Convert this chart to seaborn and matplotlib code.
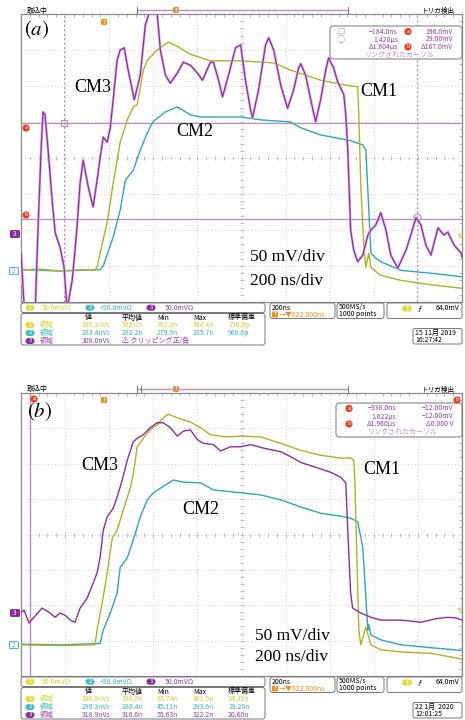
import numpy as np
import pandas as pd
import seaborn as sns
import matplotlib.pyplot as plt
from matplotlib.patches import FancyBboxPatch, Circle
from matplotlib.ticker import FixedLocator, MultipleLocator

# values: time in ns, level in mV on screen (50 mV/div)
T0 = -378  # left edge of the 2 us window

# (a)
a_ch1 = [(-378, -156), (-300, -154), (-200, -157), (-100, -155), (-42, -156), (-33, -151),
         (13, -89), (40, -35), (72, 22), (104, 53), (131, 71), (149, 74), (177, 122),
         (195, 136), (240, 150), (290, 161), (331, 155), (390, 144), (481, 135), (618, 135),
         (768, 132), (845, 122), (981, 108), (1117, 100), (1149, 99), (1154, 60), (1163, -40),
         (1177, -124), (1186, -152), (1199, -132), (1209, -152), (1254, -163), (1345, -170),
         (1481, -176), (1622, -181)]
a_ch2 = [(-378, -155), (-200, -157), (-19, -155), (-5, -150), (40, -110), (72, -72), (95, -31),
         (131, -17), (163, 11), (195, 35), (222, 51), (277, 64), (331, 71), (390, 60),
         (436, 57), (618, 57), (708, 53), (845, 50), (890, 42), (981, 32), (1117, 24),
         (1172, 18), (1186, 11), (1209, -132), (1231, -139), (1254, -144), (1322, -153),
         (1345, -156), (1481, -160), (1622, -165)]
a_ch3 = [(-378, -130), (-364, -205), (-340, -215), (-314, -215), (-301, -100), (-287, 11),
         (-278, 64), (-269, 60), (-255, 11), (-237, -58), (-223, -104), (-201, -124),
         (-183, -151), (-169, -210), (-146, -170), (-133, -128), (-124, -96), (-110, -35),
         (-96, -3), (-73, -40), (-51, -68), (-33, -31), (-19, 1), (-5, 29), (13, 22), (27, 42),
         (40, 81), (58, 136), (72, 150), (90, 153), (108, 122), (136, 81), (163, 115),
         (186, 185), (208, 206), (217, 215), (240, 200), (254, 150), (277, 115), (299, 104),
         (331, 118), (358, 133), (390, 129), (422, 118), (445, 108), (481, 133), (495, 133),
         (518, 108), (536, 85), (563, 115), (595, 153), (618, 157), (640, 108), (663, 67),
         (672, 56), (699, 94), (731, 157), (745, 167), (768, 150), (800, 101), (831, 69),
         (858, 94), (881, 125), (890, 131), (913, 115), (936, 81), (958, 50), (981, 81),
         (1004, 122), (1017, 139), (1040, 125), (1058, 106), (1086, 88), (1095, 60),
         (1104, 11), (1117, -100), (1131, -128), (1149, -144), (1172, -135), (1195, -107),
         (1209, -100), (1231, -93), (1254, -76), (1277, -100), (1299, -135), (1331, -153),
         (1368, -128), (1390, -107), (1413, -83), (1436, -93), (1458, -121), (1481, -135),
         (1513, -97), (1540, -107), (1558, -103), (1586, -121), (1618, -132), (1622, -138)]

# (b)
b_ch1 = [(-378, -156), (-200, -157), (-42, -156), (-33, -135), (-5, -88), (13, -54), (36, -5),
         (58, 6), (86, 35), (118, 66), (131, 85), (149, 124), (177, 136), (208, 148),
         (240, 155), (267, 165), (290, 170), (331, 165), (390, 159), (436, 151), (481, 141),
         (549, 138), (618, 139), (708, 138), (800, 129), (890, 119), (981, 112), (1072, 108),
         (1117, 108), (1131, 105), (1136, 77), (1154, -135), (1163, -156), (1186, -131),
         (1209, -156), (1254, -163), (1345, -166), (1481, -168), (1622, -176)]
b_ch2 = [(-378, -155), (-200, -156), (-19, -154), (-5, -135), (27, -111), (58, -83), (72, -46),
         (104, -33), (131, -8), (163, 25), (195, 49), (222, 59), (277, 70), (313, 77),
         (358, 74), (436, 73), (495, 63), (618, 59), (708, 56), (800, 49), (890, 39),
         (981, 30), (1072, 26), (1117, 23), (1149, 18), (1172, -18), (1186, -88), (1195, -135),
         (1199, -127), (1209, -142), (1254, -149), (1345, -156), (1481, -160), (1622, -164)]
b_ch3 = [(-378, -110), (-364, -107), (-342, -125), (-319, -117), (-283, -104), (-246, -111),
         (-223, -117), (-201, -111), (-178, -114), (-155, -121), (-133, -124), (-110, -104),
         (-78, -90), (-51, -69), (-33, -54), (-19, -32), (-5, 6), (13, 25), (40, 37), (58, 53),
         (81, 77), (104, 105), (131, 131), (149, 136), (177, 141), (208, 151), (240, 158),
         (267, 158), (299, 151), (331, 139), (358, 146), (390, 148), (422, 134), (449, 129),
         (495, 127), (527, 118), (572, 124), (618, 124), (663, 127), (722, 122), (800, 117),
         (845, 110), (890, 102), (958, 95), (1026, 88), (1072, 81), (1095, 73), (1104, 6),
         (1117, -83), (1126, -104), (1163, -111), (1209, -117), (1254, -121), (1345, -121),
         (1436, -124), (1504, -119), (1558, -117), (1595, -118), (1622, -121)]

# cursors (ns / mV on screen)
a_cursor_t = [-184, 1420]
a_cursor_v = [49, -85]
b_cursor_t = [-338, 1620]

# readouts
head = ['値', '平均値', 'Min', 'Max', '標準偏差']
a_rows = [['393.1nVs', '393.1n', '392.0n', '394.4n', '196.9p'],
          ['283.4nVs', '282.2n', '279.9n', '285.7n', '969.8p'],
          ['308.0nVs', '⚠ クリッピング正/負']]
b_rows = [['396.0nVs', '394.0n', '85.74n', '401.5n', '24.33n'],
          ['290.3nVs', '288.4n', '45.11n', '293.6n', '19.20n'],
          ['318.9nVs', '316.6n', '55.63n', '322.2n', '20.60n']]
a_curs = [['☐', '−184.0ns', 'a', '196.0mV'], ['○', '1.420µs', '', '29.00mV'],
          ['', 'Δ1.604µs', 'b', 'Δ167.0mV']]
b_curs = [['a', '−338.0ns', '', '−12.00mV'], ['', '1.622µs', '', '−12.00mV'],
          ['b', 'Δ1.960µs', '', 'Δ0.000 V']]
a_date = ['15 11月 2019', '16:27:42']
b_date = ['22 1月  2020', '12:01:25']

YEL, CYA, PUR = '#b4b024', '#2ba9b2', '#8e2ca0'
YEL_T, CYA_T, PUR_T = '#d6cf2a', '#35b4c4', '#9a3cb0'
CUR = '#b98ccb'
RED = '#e8401c'
ORG = '#f0901c'

sns.set_style('white')
plt.rcParams['font.family'] = ['Noto Sans CJK JP', 'DejaVu Sans']
plt.rcParams['mathtext.fontset'] = 'stix'
UI = ['Noto Sans CJK JP', 'DejaVu Sans']
SERIF = 'Liberation Serif'

fig = plt.figure(figsize=(4.65, 7.2), dpi=100)
ax_a = fig.add_axes([21 / 465, 1 - 302 / 720, 441 / 465, 288 / 720])
ax_b = fig.add_axes([21 / 465, 1 - 676 / 720, 441 / 465, 283 / 720])


def scope_axes(ax):
    ax.set_xlim(T0, T0 + 2000)
    ax.set_ylim(-200, 200)
    ax.xaxis.set_major_locator(FixedLocator(np.arange(T0, T0 + 2001, 200)))
    ax.xaxis.set_minor_locator(FixedLocator(np.arange(T0, T0 + 2001, 40)))
    ax.yaxis.set_major_locator(MultipleLocator(50))
    ax.yaxis.set_minor_locator(MultipleLocator(10))
    ax.tick_params(which='both', direction='in', top=True, right=True,
                   labelbottom=False, labelleft=False, color='#a8a8a8', width=0.6)
    ax.tick_params(which='major', length=0)
    ax.tick_params(which='minor', length=2)
    ax.grid(True, which='major', ls=(0, (1, 3)), color='#bcbcbc', lw=0.6)
    # centre cross with small division marks
    ax.plot(np.arange(T0, T0 + 2001, 40), np.zeros(51), ls='none', marker='|',
            ms=3, mew=0.6, color='#b4b4b4')
    ax.plot(np.full(41, T0 + 1000), np.arange(-200, 201, 10), ls='none', marker='_',
            ms=3, mew=0.6, color='#b4b4b4')
    for s in ax.spines.values():
        s.set_color('#8a8a8a')
        s.set_linewidth(0.9)
    ax.set_xlabel('')
    ax.set_ylabel('')


def trace(ax, pts, color, lw=1.0, z=3):
    df = pd.DataFrame(pts, columns=['t', 'v'])
    sns.lineplot(data=df, x='t', y='v', ax=ax, color=color, lw=lw, sort=False,
                 estimator=None, legend=False, zorder=z)


scope_axes(ax_a)
scope_axes(ax_b)

# (a) cursors
for v in a_cursor_v:
    ax_a.axhline(v, color=CUR, lw=0.9, zorder=2)
for t in a_cursor_t:
    ax_a.axvline(t, color=CUR, lw=0.8, ls=(0, (2, 2)), zorder=2)
ax_a.plot([a_cursor_t[0]], [a_cursor_v[0]], marker='s', ms=5, mfc='none', mec=CUR, mew=0.8)
ax_a.plot([a_cursor_t[1]], [a_cursor_v[1] + 3], marker='o', ms=5, mfc='none', mec=CUR, mew=0.8)

trace(ax_a, a_ch2, CYA)
trace(ax_a, a_ch1, YEL)
trace(ax_a, a_ch3, '#dcb8e6', lw=1.9, z=4)
trace(ax_a, a_ch3, PUR, lw=0.9, z=5)

# (b) cursors
for t in b_cursor_t:
    ax_b.axvline(t, color=CUR, lw=1.0, zorder=2)
trace(ax_b, b_ch2, CYA)
trace(ax_b, b_ch1, YEL)
trace(ax_b, b_ch3, PUR, lw=1.0, z=5)

# ---------- overlay in pixel coordinates for the scope furniture ----------
ov = fig.add_axes([0, 0, 1, 1], zorder=10)
ov.set_xlim(0, 465)
ov.set_ylim(720, 0)
ov.axis('off')
ov.patch.set_alpha(0)


def txt(x, y, s, color='black', ha='left', size=5.0, **kw):
    ov.text(x, y, s, color=color, ha=ha, va='center', fontsize=size, family=UI, **kw)


def rbox(x0, y0, x1, y1, ec='#777777', r=2.5):
    ov.add_patch(FancyBboxPatch((x0, y0), x1 - x0, y1 - y0,
                                boxstyle='round,pad=0,rounding_size=%g' % r,
                                fc='white', ec=ec, lw=0.7))


def pill(x, y, s, fc, w=9, h=6):
    ov.add_patch(FancyBboxPatch((x - w / 2, y - h / 2), w, h,
                                boxstyle='round,pad=0,rounding_size=3', fc=fc, ec='none'))
    txt(x, y, s, color='white', ha='center', size=4.2)


def dot(x, y, s, fc=RED):
    ov.add_patch(Circle((x, y), 3.6, fc=fc, ec='none'))
    txt(x, y - 0.3, s, color='white', ha='center', size=4.3)


def tmark(x, y):
    ov.add_patch(FancyBboxPatch((x - 3, y - 3), 6, 6, boxstyle='round,pad=0,rounding_size=1.2',
                                fc=ORG, ec='none'))
    txt(x, y, 'T', color='white', ha='center', size=3.8)


def chmark(x, y, s, fc, ec, tc):
    ov.add_patch(FancyBboxPatch((x - 4.5, y - 3.5), 9, 7, boxstyle='round,pad=0,rounding_size=1',
                                fc=fc, ec=ec, lw=0.7))
    txt(x, y, s, color=tc, ha='center', size=4.5)


def top_ui(top, double_tick=False):
    txt(27, top - 3.5, '取込中', size=5.0)
    ov.plot([137, 348], [top - 4, top - 4], color=CUR, lw=1.0)
    ov.plot([137, 137], [top - 7.5, top], color='#777777', lw=0.7)
    if double_tick:
        ov.plot([141, 141], [top - 7.5, top - 1], color='#777777', lw=0.7)
    ov.plot([348, 348], [top - 7.5, top], color='#777777', lw=0.7)
    tmark(176, top - 4)
    txt(422, top - 3.5, 'トリガ検出', size=4.8)


def bottom_ui(bot, rows, date):
    # channel bar
    rbox(21, bot + 1, 265, bot + 10.5)
    yb = bot + 5.7
    pill(30, yb, '1', '#e4dc3a')
    txt(42, yb, '50.0mVΩ', color=YEL_T, size=5.0)
    pill(90, yb, '2', '#3ebcc8')
    txt(100, yb, '+50.0mVΩ', color=CYA_T, size=5.0)
    pill(151, yb, '3', '#8a2c9c')
    txt(165, yb, '50.0mVΩ', color=PUR_T, size=5.0)
    # measurement table
    rbox(21, bot + 11.5, 265, bot + 43)
    cols = [82, 122, 157, 193, 228]
    for c, h in zip(cols, head):
        txt(c + (3 if h == '値' else 0), bot + 15.5, h, size=5.0)
    for i, (row, fc, tc) in enumerate(zip(rows, ['#e4dc3a', '#3ebcc8', '#8a2c9c'],
                                          [YEL_T, CYA_T, PUR_T])):
        y = bot + 23 + 8 * i
        pill(30, y, str(i + 1), fc)
        txt(40, y, '領域', color=tc, size=5.0)
        if len(row) == 2:
            txt(cols[0], y, row[0], color=tc, size=5.0)
            txt(cols[1], y, row[1], color=PUR_T, size=5.0)
        else:
            for c, s in zip(cols, row):
                txt(c, y, s, color=tc, size=5.0)
    # timebase / acquisition / trigger boxes
    rbox(270, bot + 1, 335, bot + 16.5)
    txt(272, bot + 5.5, '200ns', size=5.0)
    tmark(275, bot + 12.5)
    txt(279, bot + 12.5, '→▼622.000ns', color=ORG, size=5.0)
    rbox(337, bot + 1, 384, bot + 16.5)
    txt(339, bot + 5.5, '500MS/s', size=5.0)
    txt(339, bot + 12.5, '1000 points', size=5.0)
    rbox(387, bot + 1, 462, bot + 16.5)
    pill(407, bot + 6.5, '1', '#e4dc3a', w=10)
    txt(420, bot + 6.5, 'ƒ', ha='center', size=5.5)
    txt(459, bot + 6.5, '64.0mV', ha='right', size=5.0)
    # date
    rbox(413, bot + 26.5, 462, bot + 42, r=2)
    txt(415, bot + 30.5, date[0], size=5.0)
    txt(415, bot + 38, date[1], size=5.0)


def cursor_box(x0, y0, x1, y1, lines, rx):
    rbox(x0, y0, x1, y1, ec='#777777', r=3)
    for i, (m, s1, d, s2) in enumerate(lines):
        y = y0 + 5.5 + 7.7 * i
        if m in ('a', 'b'):
            dot(x0 + 13, y, m)
        elif m:
            txt(x0 + 11, y, m, color=CUR, ha='center', size=6.0)
        txt(rx, y, s1, color=PUR_T, ha='right', size=5.0)
        if d:
            dot(408, y, d)
        txt(453, y, s2, color=PUR_T, ha='right', size=5.0)
    txt((x0 + x1) / 2 + 3, y0 + 5.5 + 7.7 * 3, 'リンクされたカーソル', color=CUR, ha='center', size=5.0)


# panel (a)
top_ui(14)
bottom_ui(302, a_rows, a_date)
cursor_box(330, 26, 462, 59, a_curs, 398)
tmark(104, 22)
dot(26, 128, 'a')
dot(26, 215, 'b')
chmark(15, 234, '3', '#8a2c9c', '#8a2c9c', 'white')
chmark(14, 271, '2', 'white', '#3ebcc8', '#3ebcc8')
txt(459, 235, '◀', color='#e0d640', ha='center', size=3.5)

# panel (b)
top_ui(393, double_tick=True)
bottom_ui(676, b_rows, b_date)
cursor_box(336, 403, 462, 437, b_curs, 396)
tmark(104, 400)
dot(34, 399, 'a')
dot(457, 400, 'b')
chmark(15, 613, '3', '#8a2c9c', '#8a2c9c', 'white')
chmark(14, 645, '2', 'white', '#3ebcc8', '#3ebcc8')
txt(459, 609, '◀', color='#e0d640', ha='center', size=3.5)

# figure labels
for x, y, s in [(37, 30, r'$(a)$'), (40, 412, r'$(b)$')]:
    ov.text(x, y, s, ha='center', va='center', fontsize=15, color='black')
for x, y, s in [(93, 88, 'CM3'), (379, 92, 'CM1'), (195, 131, 'CM2'),
                (100, 466, 'CM3'), (382, 470, 'CM1'), (201, 510, 'CM2')]:
    ov.text(x, y, s, ha='center', va='center', fontsize=13, family=SERIF, color='black')
for x, y, s in [(250, 257, '50 mV/div'), (250, 281, '200 ns/div'),
                (255, 636, '50 mV/div'), (255, 657, '200 ns/div')]:
    ov.text(x, y, s, ha='left', va='center', fontsize=12.5, family=SERIF, color='black')

fig.savefig('out.png', dpi=100)
